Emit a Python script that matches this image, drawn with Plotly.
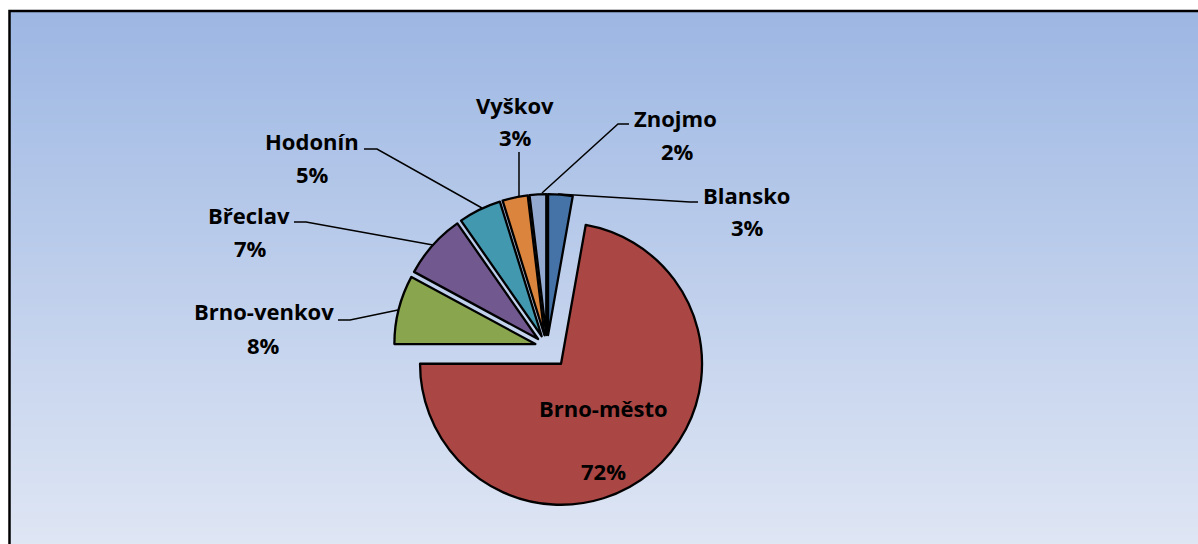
import plotly.graph_objects as go

# share of each district (%)
districts = ["Blansko", "Brno-město", "Brno-venkov", "Břeclav", "Hodonín", "Vyškov", "Znojmo"]
shares = [2.8, 72.2, 7.9, 7.4, 4.9, 2.9, 1.9]
colors = ["#4572a7", "#aa4643", "#89a54e", "#71588f", "#4198af", "#db843d", "#93a9cf"]
pulls = [0.085, 0.155, 0.085, 0.085, 0.085, 0.085, 0.085]

W, H = 1198, 544


def px(x):
    return x / W


def py(y):
    return 1 - y / H


fig = go.Figure()

# pie: centre (547, 347), radius 141 px
r = 141
box = 2 * r * (1 + max(pulls))
cx, cy = 547, 347
fig.add_trace(go.Pie(
    labels=districts,
    values=shares,
    sort=False,
    direction="clockwise",
    rotation=0,
    pull=pulls,
    marker=dict(colors=colors, line=dict(color="black", width=2.3)),
    textinfo="none",
    hoverinfo="label+percent",
    showlegend=False,
    domain=dict(x=[px(cx - box / 2), px(cx + box / 2)],
                y=[py(cy + box / 2), py(cy - box / 2)]),
))

# gradient background in thin strips
shapes = []
top_c = (157, 183, 227)
bot_c = (223, 230, 244)
y0 = 11
step = 4
y = y0
while y < H:
    t = (y - y0) / (H - y0)
    c = tuple(round(a + (b - a) * t) for a, b in zip(top_c, bot_c))
    shapes.append(dict(type="rect", xref="paper", yref="paper", layer="below",
                       x0=px(10), x1=1, y0=py(min(y + step, H)), y1=py(y),
                       fillcolor="rgb(%d,%d,%d)" % c, line_width=0))
    y += step

# chart frame
shapes.append(dict(type="path", xref="paper", yref="paper", layer="below",
                   path="M %f %f L %f %f L %f %f" % (px(9.5), py(H + 5), px(9.5), py(11), 1.01, py(11)),
                   line=dict(color="black", width=2.5)))

# leader lines
leaders = [
    [(364, 149), (377, 149), (482, 208)],
    [(294, 222), (306, 222), (433, 245)],
    [(338, 320), (350, 320), (398, 310)],
    [(519, 152), (519, 196)],
    [(629, 124), (618, 124), (542, 193)],
    [(698, 202), (690, 202), (558, 194)],
]
for pts in leaders:
    path = "M " + " L ".join("%f %f" % (px(a), py(b)) for a, b in pts)
    shapes.append(dict(type="path", xref="paper", yref="paper", path=path,
                       line=dict(color="black", width=1.5)))

# label positions (name centre, percent centre)
label_pos = {
    "Blansko": ((747, 195), (748, 227)),
    "Brno-město": ((603, 408), (603, 471)),
    "Brno-venkov": ((264, 311), (263, 345)),
    "Břeclav": ((249, 215), (250, 248)),
    "Hodonín": ((312, 141), (312, 174)),
    "Vyškov": ((515, 105), (515, 137)),
    "Znojmo": ((675, 118), (677, 151)),
}
total = sum(shares)
annotations = []
font = dict(family="Open Sans", size=22, color="black")
for name, v in zip(districts, shares):
    (nx, ny), (qx, qy) = label_pos[name]
    annotations.append(dict(x=px(nx), y=py(ny), xref="paper", yref="paper",
                            text="<b>%s</b>" % name, showarrow=False, font=font,
                            xanchor="center", yanchor="middle"))
    annotations.append(dict(x=px(qx), y=py(qy), xref="paper", yref="paper",
                            text="<b>%d%%</b>" % round(v / total * 100), showarrow=False,
                            font=font, xanchor="center", yanchor="middle"))

fig.update_layout(
    width=W, height=H,
    margin=dict(l=0, r=0, t=0, b=0),
    paper_bgcolor="white",
    plot_bgcolor="white",
    shapes=shapes,
    annotations=annotations,
)

# drop the default page margin so the figure sits at the window's corner
fig.write_html("out.html", config={"displayModeBar": False},
               post_script="document.body.style.margin='0';")
